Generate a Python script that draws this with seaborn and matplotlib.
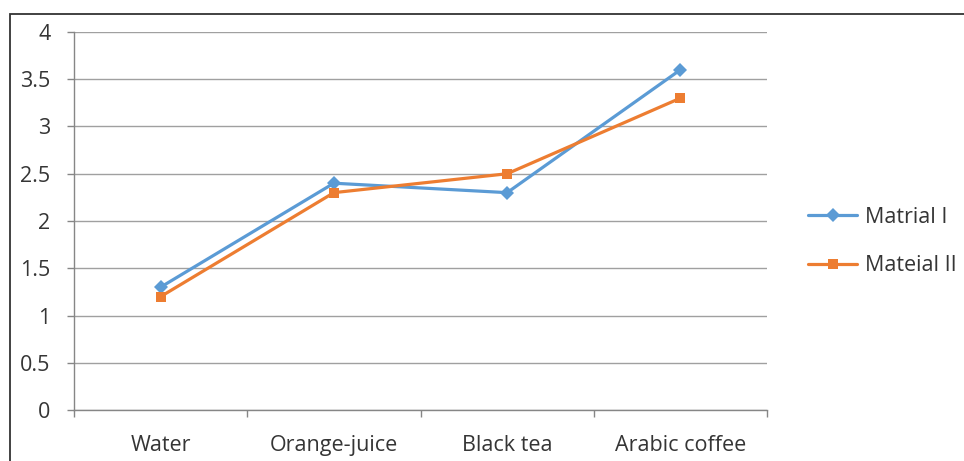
import matplotlib
matplotlib.use("Agg")
import matplotlib.pyplot as plt
import matplotlib.patches as mpatches
import seaborn as sns
import pandas as pd

categories = ["Water", "Orange-juice", "Black tea", "Arabic coffee"]
series_names = ["Matrial I", "Mateial II"]
matrial_i = [1.3, 2.4, 2.3, 3.6]
mateial_ii = [1.2, 2.3, 2.5, 3.3]
y_ticks = [0, 0.5, 1, 1.5, 2, 2.5, 3, 3.5, 4]
y_tick_labels = ["0", "0.5", "1", "1.5", "2", "2.5", "3", "3.5", "4"]

sns.set_theme(style="white")
plt.rcParams["font.family"] = ["Open Sans", "DejaVu Sans"]

df = pd.DataFrame({
    "x": list(range(len(categories))) * 2,
    "value": matrial_i + mateial_ii,
    "series": [series_names[0]] * 4 + [series_names[1]] * 4,
})

fig = plt.figure(figsize=(9.64, 4.61), dpi=100)
ax = fig.add_axes([74 / 964, 1 - 410 / 461, (767 - 74) / 964, (410 - 32) / 461])

palette = {series_names[0]: "#5B9BD5", series_names[1]: "#ED7D31"}
markers = {series_names[0]: "D", series_names[1]: "s"}
sns.lineplot(data=df, x="x", y="value", hue="series", style="series",
             palette=palette, markers=markers, dashes=False, linewidth=2.3,
             markersize=7.5, markeredgewidth=0, ax=ax)

fs = 15.5
txt = "#353535"
ax.set_xlim(-0.5, 3.5)
ax.set_ylim(0, 4)
ax.set_yticks(y_ticks)
ax.set_yticklabels(y_tick_labels)
ax.set_xticks(range(len(categories)))
ax.set_xticklabels(categories)
ax.set_xticks([-0.5, 0.5, 1.5, 2.5, 3.5], minor=True)
ax.tick_params(axis="x", which="major", length=0, pad=18, labelsize=fs, labelcolor=txt)
ax.tick_params(axis="x", which="minor", length=5, width=1, color="#868686", direction="out", bottom=True)
ax.tick_params(axis="y", length=5, width=1, color="#868686", direction="out", left=True,
               pad=12, labelsize=fs, labelcolor=txt)
ax.set_xlabel("")
ax.set_ylabel("")
ax.grid(axis="y", color="#A0A0A0", linewidth=1)
ax.set_axisbelow(True)
for s in ["top", "right"]:
    ax.spines[s].set_visible(False)
for s in ["left", "bottom"]:
    ax.spines[s].set_color("#868686")
    ax.spines[s].set_linewidth(1)

leg = ax.legend(loc="center left", bbox_to_anchor=(1.059, 0.446), frameon=False,
                fontsize=fs, handlelength=2.3, labelspacing=1.28, handletextpad=0.35,
                borderaxespad=0, borderpad=0)
for t in leg.get_texts():
    t.set_color(txt)

fig.patches.append(mpatches.Rectangle((9.5 / 964, -0.1), 1.2, 1 - 14.5 / 461 + 0.1,
                                      transform=fig.transFigure, fill=False,
                                      edgecolor="#333333", linewidth=1.3))

fig.savefig("out.png", dpi=100)
